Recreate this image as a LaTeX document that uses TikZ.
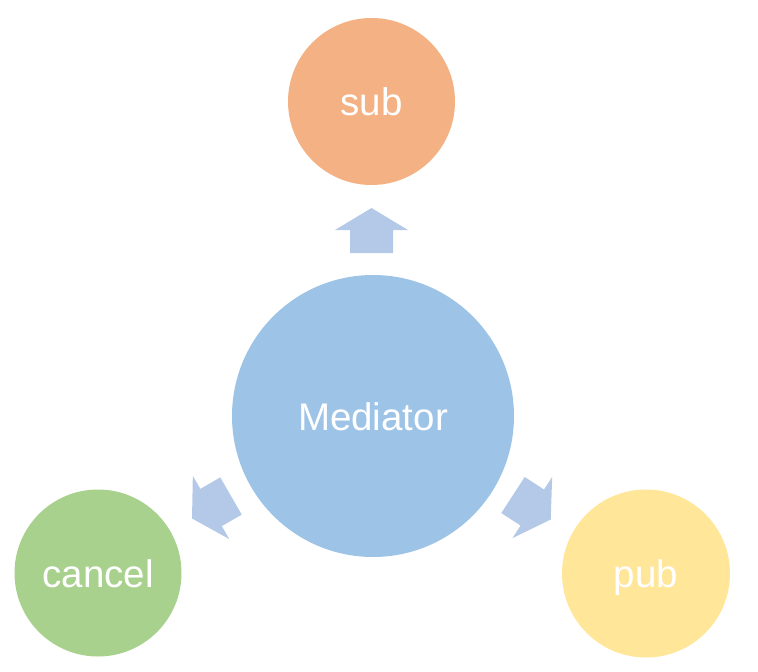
\documentclass[tikz,border=0pt]{standalone}
\usepackage{fontspec}
\setmainfont{Liberation Sans}
\definecolor{medblue}{HTML}{9DC3E6}
\definecolor{arrblue}{HTML}{B4C9E8}
\definecolor{suborange}{HTML}{F4B183}
\definecolor{cangreen}{HTML}{A9D18E}
\definecolor{pubyellow}{HTML}{FFE699}
\tikzset{
  ball/.style={circle, inner sep=0pt, text=white, text height=28pt, text depth=0pt,
    font=\fontsize{38.5}{40}\selectfont},
  blockarrow/.pic={\fill[arrblue] (0,-21.5) -- (23,-21.5) -- (23,-36.5) -- (45,0) -- (23,36.5) -- (23,21.5) -- (0,21.5) -- cycle;}
}
\begin{document}
\begin{tikzpicture}[x=1pt,y=-1pt]
\useasboundingbox (0,0) rectangle (758,672);
\node[ball, fill=medblue, minimum size=282] (med) at (373,416) {Mediator};
\node[ball, fill=suborange, minimum size=167] (sub) at (371.5,101.5) {sub};
\node[ball, fill=cangreen, minimum size=167] (cancel) at (98,573) {cancel};
\node[ball, fill=pubyellow, minimum size=168] (pub) at (646,573.5) {pub};
\coordinate (aup) at (371.5,253);
\coordinate (aleft) at (231,496);
\coordinate (aright) at (513,495);
\pic[rotate=90] at (aup) {blockarrow};
\pic[rotate=210] at (aleft) {blockarrow};
\pic[rotate=-33] at (aright) {blockarrow};
\end{tikzpicture}
\end{document}
